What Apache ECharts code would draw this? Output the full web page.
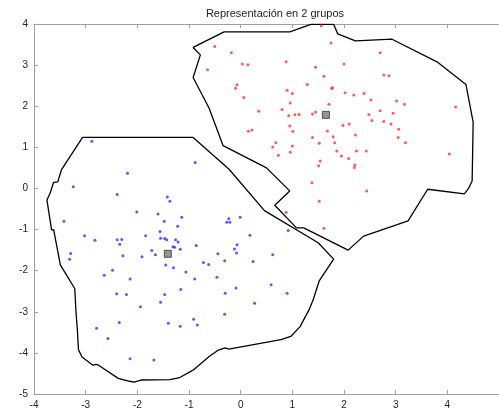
<!DOCTYPE html>
<html>
<head>
<meta charset="utf-8">
<script src="https://cdn.jsdelivr.net/npm/echarts@6/dist/echarts.min.js"></script>
<style>
  html, body { margin: 0; padding: 0; background: #fff; }
  #chart { width: 499px; height: 414px; }
</style>
</head>
<body>
<div id="chart"></div>
<script>
// Group 1 (red) observations
const redX = [1.56,-0.50,1.75,-0.18,2.70,-0.64,0.03,0.14,0.88,1.45,2.00,1.61,2.77,2.87,-0.07,-0.10,1.29,1.78,1.76,0.90,1.00,0.06,2.02,2.19,2.39,0.96,1.71,2.52,3.02,3.17,4.16,0.35,0.80,0.93,1.05,1.13,1.39,1.45,2.48,2.70,2.95,2.54,2.77,2.91,3.06,3.05,3.19,0.15,0.22,0.95,1.01,1.98,2.10,1.68,2.22,1.39,1.79,1.52,1.82,0.68,0.62,1.00,0.96,0.73,1.86,2.24,2.43,1.95,2.09,1.54,1.51,2.21,2.20,4.04,1.38,2.44,1.52,0.88,1.61];
const redY = [3.96,3.45,3.54,3.30,3.30,2.89,3.03,3.01,3.08,2.95,3.03,2.73,2.76,2.74,2.52,2.44,2.53,2.45,2.43,2.39,2.31,2.21,2.33,2.27,2.31,2.08,2.05,2.15,2.13,2.05,1.98,1.88,1.92,1.77,1.79,1.80,1.81,1.86,1.80,1.89,1.83,1.65,1.63,1.57,1.44,1.24,1.11,1.39,1.42,1.52,1.39,1.53,1.57,1.40,1.30,1.24,1.26,1.10,1.11,1.11,1.01,1.03,0.88,0.81,0.91,0.91,0.91,0.79,0.73,0.67,0.55,0.57,0.51,0.84,0.14,-0.06,-0.31,-0.58,-0.97];

// Group 2 (blue) observations
const blueX = [-2.88,-0.88,-2.19,-3.24,-2.39,-1.42,-1.37,-2.01,-1.60,-3.42,-1.48,-1.14,-1.22,-0.23,-0.27,-0.21,-0.01,0.92,-1.56,-3.02,-1.84,-2.82,-2.39,-2.30,-2.34,-1.55,-1.47,-1.43,-1.26,-1.21,-1.31,-1.28,-1.17,-0.86,0.18,-0.07,-0.12,-0.08,-0.44,0.62,-3.29,-3.31,-2.28,-1.91,-1.72,-1.65,-1.45,-1.30,-0.72,-0.62,-0.31,0.24,-1.06,-2.64,-2.48,-2.14,-0.89,-0.46,0.59,-2.40,-2.21,-1.16,-1.47,-0.30,-0.09,0.90,0.27,-1.55,-1.94,-0.31,-2.35,-1.40,-1.17,-0.91,-0.84,-2.79,-2.57,-2.14,-1.68];
const blueY = [1.15,0.63,0.37,0.04,-0.15,-0.21,-0.31,-0.57,-0.62,-0.80,-0.80,-0.70,-0.92,-0.74,-0.82,-0.82,-0.70,-1.02,-1.05,-1.15,-1.15,-1.26,-1.25,-1.24,-1.36,-1.21,-1.22,-1.25,-1.25,-1.30,-1.42,-1.43,-1.48,-1.39,-1.14,-1.37,-1.47,-1.57,-1.59,-1.61,-1.58,-1.72,-1.64,-1.66,-1.51,-1.61,-1.86,-1.93,-1.80,-1.85,-1.76,-1.78,-2.03,-2.11,-1.99,-2.20,-2.20,-2.16,-2.34,-2.56,-2.58,-2.46,-2.58,-2.55,-2.42,-2.55,-2.79,-2.77,-2.88,-3.06,-3.26,-3.28,-3.35,-3.18,-3.32,-3.40,-3.65,-4.14,-4.17];

// Group centroids
const redCenter = [1.65, 1.79];
const blueCenter = [-1.41, -1.59];

// Outline around each group
const redHullX = [-0.32,0.95,1.36,1.80,1.88,2.22,2.93,3.80,4.36,4.50,4.48,4.41,4.33,3.62,3.24,2.38,2.08,1.22,1.08,0.66,0.95,0.50,-0.34,-0.61,-0.92,-0.78,-0.92,-0.32];
const redHullY = [3.81,3.81,3.99,3.99,3.76,3.59,3.63,3.08,2.53,1.61,0.18,0.00,-0.13,-0.02,-0.79,-1.16,-1.50,-0.96,-0.96,-0.41,-0.06,0.50,1.04,1.95,2.70,3.25,3.43,3.81];
const blueHullX = [-3.06,-0.92,-0.22,0.46,1.50,1.80,1.52,1.40,1.32,1.15,0.97,0.78,-0.23,-0.30,-0.43,-0.61,-0.92,-1.18,-1.37,-1.93,-2.06,-2.15,-2.37,-2.75,-2.80,-2.86,-3.07,-3.14,-3.16,-3.19,-3.21,-3.49,-3.62,-3.66,-3.69,-3.75,-3.69,-3.62,-3.54,-3.47,-3.06];
const blueHullY = [1.24,1.24,0.46,-0.54,-1.32,-1.72,-2.25,-2.72,-2.96,-3.36,-3.60,-3.68,-3.91,-3.88,-3.93,-4.09,-4.42,-4.60,-4.65,-4.66,-4.71,-4.69,-4.62,-4.30,-4.28,-4.30,-4.10,-3.92,-3.45,-2.96,-2.44,-1.86,-1.00,-1.01,-0.97,-0.28,-0.12,0.15,0.16,0.45,1.24];

const xTicks = { min: -4, max: 5, step: 1 };
const yTicks = { min: -5, max: 4, step: 1 };

const pairs = (xs, ys) => xs.map((x, i) => [x, ys[i]]);

const chart = echarts.init(document.getElementById('chart'), null, { renderer: 'canvas' });

const axisColor = '#a0a0a0';
const labelStyle = { color: '#222', fontSize: 10, fontFamily: 'Liberation Sans, Arial, sans-serif' };

chart.setOption({
  animation: false,
  backgroundColor: '#fff',
  title: {
    text: 'Representación en 2 grupos',
    left: 270,
    textAlign: 'center',
    top: 3,
    textStyle: { color: '#222', fontSize: 11, fontWeight: 'normal', fontFamily: 'Liberation Sans, Arial, sans-serif' }
  },
  grid: { left: 34, top: 24, width: 477, height: 370 },
  xAxis: [{
    type: 'value', position: 'bottom', min: xTicks.min, max: xTicks.max, interval: xTicks.step,
    axisLine: { show: true, onZero: false, lineStyle: { color: axisColor, width: 1 } },
    axisTick: { show: true, inside: true, length: 4, lineStyle: { color: axisColor } },
    axisLabel: Object.assign({ margin: 6, showMaxLabel: false }, labelStyle),
    splitLine: { show: false }
  }, {
    type: 'value', position: 'top', min: xTicks.min, max: xTicks.max, interval: xTicks.step,
    axisLine: { show: true, onZero: false, lineStyle: { color: axisColor, width: 1 } },
    axisTick: { show: true, inside: true, length: 4, lineStyle: { color: axisColor } },
    axisLabel: { show: false },
    splitLine: { show: false }
  }],
  yAxis: {
    type: 'value', min: yTicks.min, max: yTicks.max, interval: yTicks.step,
    axisLine: { show: true, onZero: false, lineStyle: { color: axisColor, width: 1 } },
    axisTick: { show: true, inside: true, length: 4, lineStyle: { color: axisColor } },
    axisLabel: Object.assign({ margin: 6 }, labelStyle),
    splitLine: { show: false }
  },
  series: [
    {
      type: 'line', data: pairs(redHullX, redHullY), showSymbol: false, symbol: 'none',
      lineStyle: { color: '#000', width: 1.3 }, z: 2, silent: true
    },
    {
      type: 'line', data: pairs(blueHullX, blueHullY), showSymbol: false, symbol: 'none',
      lineStyle: { color: '#000', width: 1.3 }, z: 2, silent: true
    },
    {
      type: 'scatter', data: pairs(redX, redY), symbol: 'circle', symbolSize: 3,
      itemStyle: { color: '#ff3030' }, z: 3
    },
    {
      type: 'scatter', data: pairs(blueX, blueY), symbol: 'circle', symbolSize: 3,
      itemStyle: { color: '#3030ff' }, z: 3
    },
    {
      type: 'scatter', data: [redCenter, blueCenter], symbol: 'rect', symbolSize: 7,
      itemStyle: { color: '#7a7a7a', borderColor: '#333', borderWidth: 1 }, z: 4
    }
  ]
});
</script>
</body>
</html>
